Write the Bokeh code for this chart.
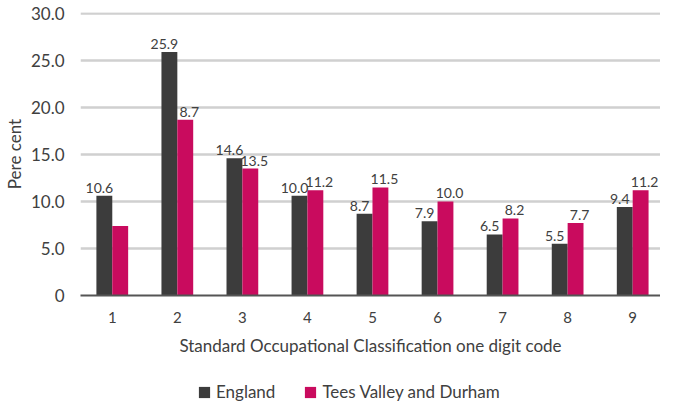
from bokeh.plotting import figure
from bokeh.models import Range1d, FixedTicker, Legend, LegendItem, ColumnDataSource
from bokeh.core.properties import value
from bokeh.transform import dodge
from bokeh.layouts import column
from bokeh.embed import file_html
from bokeh.resources import INLINE

# ---- data ----
codes = [1, 2, 3, 4, 5, 6, 7, 8, 9]
code_labels = ["1", "2", "3", "4", "5", "6", "7", "8", "9"]
england = [10.6, 25.9, 14.6, 10.6, 8.7, 7.9, 6.5, 5.5, 9.4]
england_labels = ["10.6", "25.9", "14.6", "10.0", "8.7", "7.9", "6.5", "5.5", "9.4"]
tees = [7.4, 18.7, 13.5, 11.2, 11.5, 10.0, 8.2, 7.7, 11.2]
tees_labels = ["", "8.7", "13.5", "11.2", "11.5", "10.0", "8.2", "7.7", "11.2"]
series_names = ["England", "Tees Valley and Durham"]
y_ticks = [0, 5, 10, 15, 20, 25, 30]
y_tick_labels = ["0", "5.0", "10.0", "15.0", "20.0", "25.0", "30.0"]

ENG = "#3c3c3c"
TEES = "#c90b5e"
TXT = "#404040"
FONT = "Lato"

p = figure(width=660, height=364, output_backend="svg", toolbar_location=None,
           x_range=Range1d(0.5115, 9.4275), y_range=Range1d(0, 30.1),
           min_border_left=76, min_border_right=0, min_border_top=12,
           min_border_bottom=69)
p.outline_line_color = None
p.background_fill_color = "white"
p.border_fill_color = "white"

src = ColumnDataSource(dict(x=codes, eng=england, tees=tees,
                            eng_lab=england_labels, tees_lab=tees_labels))

bw = 0.244
off = 0.122
p.vbar(x=dodge("x", -off), top="eng", width=bw, source=src,
       fill_color=ENG, line_color=None)
p.vbar(x=dodge("x", off), top="tees", width=bw, source=src,
       fill_color=TEES, line_color=None)

p.text(x=dodge("x", -off), y="eng", text="eng_lab", source=src,
       text_align="center", text_baseline="bottom", x_offset=-5, y_offset=-3,
       text_font=value(FONT), text_font_size="14px", text_color=TXT)
p.text(x=dodge("x", off), y="tees", text="tees_lab", source=src,
       text_align="center", text_baseline="bottom", x_offset=4, y_offset=-3,
       text_font=value(FONT), text_font_size="14px", text_color=TXT)

# grid
p.xgrid.grid_line_color = None
p.ygrid.ticker = FixedTicker(ticks=y_ticks[1:])
p.ygrid.grid_line_color = "#d0d0d0"
p.ygrid.grid_line_width = 2.5
p.ygrid.level = "underlay"

# y axis
ya = p.yaxis[0]
ya.ticker = FixedTicker(ticks=y_ticks)
ya.major_label_overrides = {t: l for t, l in zip(y_ticks, y_tick_labels)}
ya.axis_line_color = None
ya.major_tick_line_color = None
ya.minor_tick_line_color = None
ya.major_tick_out = 0
ya.major_label_standoff = 16
ya.major_label_text_font = FONT
ya.major_label_text_font_size = "17px"
ya.major_label_text_color = TXT
ya.axis_label = "Pere cent"
ya.axis_label_text_font = FONT
ya.axis_label_text_font_size = "17px"
ya.axis_label_text_font_style = "normal"
ya.axis_label_text_color = TXT
ya.axis_label_standoff = 3

# x axis
xa = p.xaxis[0]
xa.ticker = FixedTicker(ticks=codes)
xa.major_label_overrides = {c: l for c, l in zip(codes, code_labels)}
xa.axis_line_color = "#555555"
xa.axis_line_width = 2
xa.major_tick_line_color = None
xa.minor_tick_line_color = None
xa.major_tick_out = 0
xa.major_label_standoff = 16
xa.major_label_text_font = FONT
xa.major_label_text_font_size = "15px"
xa.major_label_text_color = TXT
xa.axis_label = "Standard Occupational Classification one digit code"
xa.axis_label_text_font = FONT
xa.axis_label_text_font_size = "17px"
xa.axis_label_text_font_style = "normal"
xa.axis_label_text_color = TXT
xa.axis_label_standoff = 9

# ---- legend strip (its ranges keep the bars out of view; only the legend shows) ----
p2 = figure(width=660, height=38, output_backend="svg", toolbar_location=None,
            x_range=Range1d(100, 101), y_range=Range1d(100, 101),
            x_axis_location=None, y_axis_location=None,
            min_border=0)
p2.outline_line_color = None
p2.xgrid.grid_line_color = None
p2.ygrid.grid_line_color = None
lr_eng = p2.vbar(x="x", top="eng", width=bw, source=src,
                 fill_color=ENG, line_color=None)
lr_tees = p2.vbar(x="x", top="tees", width=bw, source=src,
                  fill_color=TEES, line_color=None)

legend = Legend(items=[LegendItem(label=series_names[0], renderers=[lr_eng]),
                       LegendItem(label=series_names[1], renderers=[lr_tees])],
                location=(117, 0), orientation="horizontal",
                glyph_width=14, glyph_height=14, label_standoff=5, spacing=28,
                label_height=16, padding=0, margin=0, border_line_color=None,
                background_fill_alpha=0,
                label_text_font=FONT, label_text_font_size="17px",
                label_text_color=TXT)
p2.add_layout(legend, "center")

layout = column(p, p2, spacing=0)
open("out.html", "w").write(file_html(layout, INLINE))
